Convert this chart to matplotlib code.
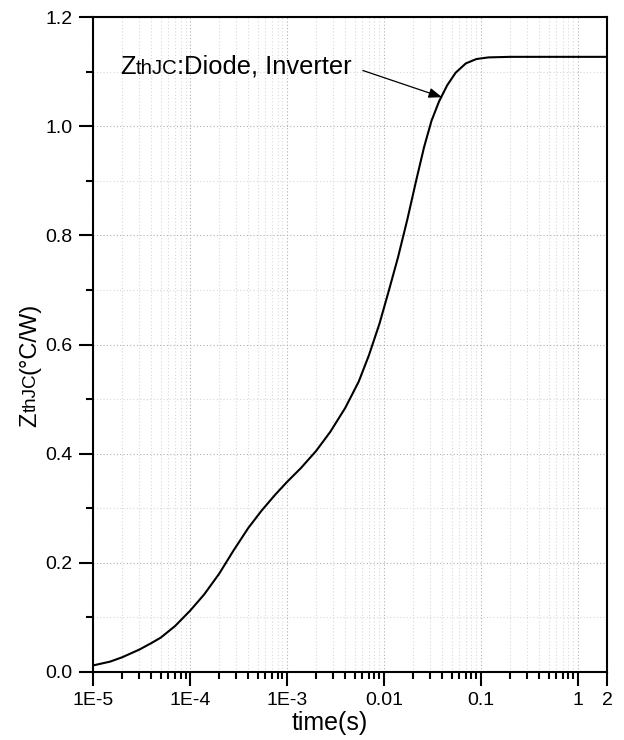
#!/usr/bin/env python
# -*- coding: utf-8 -*-
"""
Transient thermal impedance ZthJC of the inverter diode
"""
import matplotlib
matplotlib.use("Agg")
import matplotlib.pyplot as plt
import matplotlib.transforms as mtransforms
from matplotlib.ticker import MultipleLocator, LogLocator, NullFormatter

plt.rcParams['font.family'] = ['Liberation Sans', 'DejaVu Sans']

# values
time_s = [1e-5, 1.5e-5, 2e-5, 3e-5, 4e-5, 5e-5, 7e-5, 1e-4, 1.4e-4, 2e-4,
          2.8e-4, 4e-4, 5.5e-4, 7.5e-4, 1e-3, 1.4e-3, 2e-3, 2.8e-3, 4e-3,
          5.5e-3, 7e-3, 9e-3, 0.0113, 0.014, 0.0175, 0.0215, 0.026, 0.031,
          0.037, 0.045, 0.055, 0.07, 0.09, 0.12, 0.2, 2.0]
zth_jc = [0.012, 0.019, 0.027, 0.041, 0.053, 0.063, 0.084, 0.112, 0.142,
          0.180, 0.222, 0.264, 0.296, 0.324, 0.348, 0.374, 0.405, 0.440,
          0.484, 0.532, 0.580, 0.638, 0.700, 0.760, 0.830, 0.900, 0.962,
          1.010, 1.045, 1.075, 1.098, 1.115, 1.123, 1.126, 1.127, 1.127]

x_ticks = [1e-5, 1e-4, 1e-3, 1e-2, 1e-1, 1, 2]
x_tick_labels = ["1E-5", "1E-4", "1E-3", "0.01", "0.1", "1", "2"]

label_text = [("Z", 18.4), ("thJC", 14.7), (":Diode, Inverter", 18.4)]
ylabel_text = [("Z", 17), ("thJC", 13.6), ("(\u00b0C/W)", 17)]
label_pos = (1.89e-5, 1.096)
arrow_from = (6.07e-3, 1.102)
arrow_to = (0.0398, 1.053)


def draw_parts(fig, x, y, parts, transform, rotation=0):
    # draw text pieces one after another (small "thJC" on the same baseline)
    renderer = fig.canvas.get_renderer()
    trans = transform
    for s, size in parts:
        txt = fig.text(x, y, s, transform=trans, fontsize=size,
                       rotation=rotation, rotation_mode='anchor',
                       ha='left', va='baseline', color='black')
        bb = txt.get_window_extent(renderer=renderer)
        if rotation == 90:
            trans = mtransforms.offset_copy(txt.get_transform(), fig=fig,
                                            y=bb.height, units='dots')
        else:
            trans = mtransforms.offset_copy(txt.get_transform(), fig=fig,
                                            x=bb.width, units='dots')


def plot_zth():
    fig = plt.figure(figsize=(6.24, 7.40), dpi=100)
    ax = fig.add_axes([93 / 624, 1 - 672 / 740, 514 / 624, 655 / 740])

    ax.plot(time_s, zth_jc, color='black', lw=1.5, solid_joinstyle='round')

    ax.set_xscale('log')
    ax.set_xlim(1e-5, 2)
    ax.set_ylim(0, 1.2)

    ax.set_xticks(x_ticks)
    ax.set_xticklabels(x_tick_labels)
    ax.xaxis.set_minor_locator(LogLocator(base=10, subs=range(2, 10),
                                          numticks=20))
    ax.xaxis.set_minor_formatter(NullFormatter())
    ax.yaxis.set_major_locator(MultipleLocator(0.2))
    ax.yaxis.set_minor_locator(MultipleLocator(0.1))
    ax.yaxis.set_major_formatter(plt.FuncFormatter(lambda v, p: "%.1f" % v))

    ax.tick_params(which='major', direction='out', length=10, width=1.5,
                   labelsize=14, top=False, right=False)
    ax.tick_params(which='minor', direction='out', length=5, width=1.5,
                   top=False, right=False)
    ax.tick_params(axis='x', which='major', pad=4.5)
    ax.tick_params(axis='y', which='major', pad=4.5)

    for sp in ax.spines.values():
        sp.set_linewidth(1.5)

    ax.grid(which='major', ls=(0, (1, 2)), color='#b0b0b0', lw=0.8)
    ax.grid(which='minor', ls=(0, (1, 2)), color='#d8d8d8', lw=0.8)
    ax.set_axisbelow(True)

    # annotation
    draw_parts(fig, label_pos[0], label_pos[1], label_text, ax.transData)
    ax.annotate('', xy=arrow_to, xytext=arrow_from,
                arrowprops=dict(arrowstyle='-|>,head_length=0.8,head_width=0.3',
                                color='black', lw=0.9, mutation_scale=10,
                                shrinkA=0, shrinkB=0))

    # axis titles
    fig.text(330 / 624, 1 - 730 / 740, "time(s)", fontsize=18,
             ha='center', va='baseline')
    draw_parts(fig, 36 / 624, 1 - 427 / 740, ylabel_text, fig.transFigure,
               rotation=90)

    fig.savefig("out.png", dpi=100)


if __name__ == '__main__':
    plot_zth()
